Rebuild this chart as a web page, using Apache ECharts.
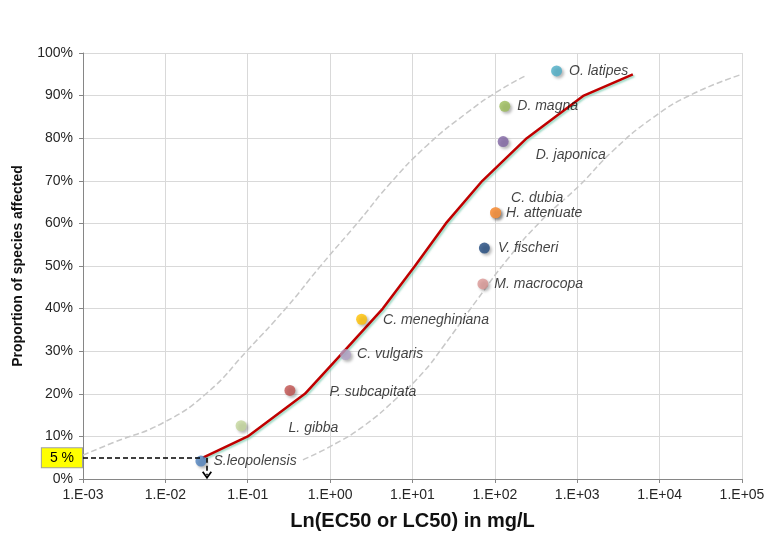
<!DOCTYPE html>
<html>
<head>
<meta charset="utf-8">
<script src="https://cdn.jsdelivr.net/npm/echarts@6/dist/echarts.min.js"></script>
<style>
  html, body { margin: 0; padding: 0; background: #fff; }
  #chart { width: 778px; height: 553px; }
</style>
</head>
<body>
<div id="chart"></div>
<script>
// species sensitivity points (EC50 / LC50 in mg/L, cumulative %)
const species = ["S.leopolensis", "L. gibba", "P. subcapitata", "C. vulgaris", "C. meneghiniana",
  "M. macrocopa", "V. fischeri", "C. dubia", "H. attenuate", "D. japonica", "D. magna", "O. latipes"];
const ec50 = [0.027, 0.083, 0.325, 1.54, 2.41, 71.5, 74.6, 102, 102, 126, 132, 561];
const proportion = [4.2, 12.5, 20.8, 29.2, 37.5, 45.8, 54.2, 62.5, 62.5, 79.2, 87.5, 95.8];
const dotColors = ["#4F81BD", "#C3D69B", "#C0504D", "#B3A2C7", "#FFC000",
  "#D99694", "#1F497D", "#F79646", "#F79646", "#8064A2", "#9BBB59", "#4BACC6"];
const labelOffsets = [[2, 0], [37, 2], [29, 2], [1, 0], [11, 1],
  [1, 0], [3, 0], [5, -15], [0, 0], [22, 14], [2, 0], [2, 0]];

// fitted SSD curve
const fitConc = [0.0286, 0.1, 0.494, 1.48, 4.36, 10.7, 25.4, 70.5, 244, 1200, 4730];
const fitPct = [5, 10, 20, 30, 40, 50, 60, 70, 80, 90, 95];

// confidence bounds (dashed)
const upperConc = [0.001, 0.0023, 0.0094, 0.032, 0.1, 0.3, 0.75, 2.3, 5.3, 15, 46, 115, 245];
const upperPct = [5.6, 8.5, 13.2, 20.2, 30.3, 40.4, 49.8, 60.8, 69.3, 78.3, 86.0, 91.3, 94.8];
const lowerConc = [0.468, 0.996, 2.5, 6.47, 13.4, 23.4, 60.5, 140, 352, 1075, 2700, 8270, 25300, 100000];
const lowerPct = [4.5, 7.6, 12.3, 19, 25, 31, 42, 51.4, 60.3, 69.0, 77.0, 84.8, 90.4, 95];

const xTickLabels = ["1.E-03", "1.E-02", "1.E-01", "1.E+00", "1.E+01", "1.E+02", "1.E+03", "1.E+04", "1.E+05"];
const hc5Pct = 5;
const hc5Arrow = 0.032;

const zip = (a, b) => a.map((v, i) => [v, b[i]]);

var myChart = echarts.init(document.getElementById("chart"));
var fontFamily = "'Liberation Sans', Arial, sans-serif";

var option = {
  backgroundColor: "#fff",
  animation: false,
  textStyle: { fontFamily: fontFamily },
  grid: { left: 83, right: 36, top: 53, bottom: 74, containLabel: false },
  xAxis: {
    type: "log",
    logBase: 10,
    min: 0.001,
    max: 100000,
    splitNumber: 8,
    name: "Ln(EC50 or LC50) in mg/L",
    nameLocation: "middle",
    nameGap: 32,
    nameTextStyle: { fontSize: 20, fontWeight: "bold", color: "#111", fontFamily: fontFamily },
    axisLine: { show: true, lineStyle: { color: "#868686", width: 1 } },
    axisTick: { show: true, length: 4, lineStyle: { color: "#868686" } },
    axisLabel: {
      fontSize: 14,
      color: "#262626",
      margin: 9,
      formatter: function (v) {
        return xTickLabels[Math.round(Math.log10(v)) + 3];
      },
    },
    splitLine: { show: true, lineStyle: { color: "#d9d9d9", width: 1 } },
  },
  yAxis: {
    type: "value",
    min: 0,
    max: 100,
    interval: 10,
    name: "Proportion of species affected",
    nameLocation: "middle",
    nameGap: 58,
    nameTextStyle: { fontSize: 14, fontWeight: "bold", color: "#111", fontFamily: fontFamily },
    axisLine: { show: true, lineStyle: { color: "#868686", width: 1 } },
    axisTick: { show: true, length: 4, lineStyle: { color: "#868686" } },
    axisLabel: { fontSize: 14, color: "#262626", margin: 10, formatter: "{value}%" },
    splitLine: { show: true, lineStyle: { color: "#d9d9d9", width: 1 } },
  },
  series: [
    {
      type: "line",
      name: "upper",
      data: zip(upperConc, upperPct),
      smooth: 0.5,
      showSymbol: false,
      silent: true,
      lineStyle: { color: "#c8c8c8", width: 1.5, type: [6, 3] },
      z: 1,
    },
    {
      type: "line",
      name: "lower",
      data: zip(lowerConc, lowerPct),
      smooth: 0.5,
      showSymbol: false,
      silent: true,
      lineStyle: { color: "#c8c8c8", width: 1.5, type: [6, 3] },
      z: 1,
    },
    {
      type: "line",
      name: "fit",
      data: zip(fitConc, fitPct),
      showSymbol: false,
      silent: true,
      lineStyle: {
        color: "#C00000",
        width: 2.5,
        shadowColor: "rgba(110,200,170,0.7)",
        shadowBlur: 2,
        shadowOffsetX: 1.5,
        shadowOffsetY: 1.5,
      },
      z: 3,
      markLine: {
        silent: true,
        symbol: ["none", "none"],
        lineStyle: { color: "#000", width: 1.6, type: [5, 3] },
        data: [
          [
            {
              coord: [0.001, hc5Pct],
              label: {
                show: true,
                position: "start",
                distance: 1,
                formatter: "5 %",
                fontSize: 14,
                color: "#000",
                backgroundColor: "#FFFF00",
                borderColor: "#a0a0a0",
                borderWidth: 1,
                padding: [3, 8, 2, 8],
                lineHeight: 14,
              },
            },
            { coord: [fitConc[0], hc5Pct] },
          ],
          [
            { coord: [hc5Arrow, hc5Pct], label: { show: false } },
            {
              coord: [hc5Arrow, 0.9],
              symbol: "path://M5,0 L10,7 L8.6,8 L5,3 L1.4,8 L0,7 Z",
              symbolSize: [10, 8],
            },
          ],
        ],
      },
    },
    {
      type: "scatter",
      name: "species",
      symbolSize: 11,
      z: 4,
      data: species.map(function (s, i) {
        return {
          name: s,
          value: [ec50[i], proportion[i]],
          itemStyle: { color: dotColors[i] },
          label: { offset: labelOffsets[i] },
        };
      }),
      itemStyle: {
        shadowColor: "rgba(0,0,0,0.35)",
        shadowBlur: 3,
        shadowOffsetX: 2,
        shadowOffsetY: 2,
      },
      label: {
        show: true,
        position: "right",
        distance: 5,
        formatter: "{b}",
        fontSize: 14,
        fontStyle: "italic",
        color: "#111",
      },
    },
  ],
};

option && myChart.setOption(option);
</script>
</body>
</html>
